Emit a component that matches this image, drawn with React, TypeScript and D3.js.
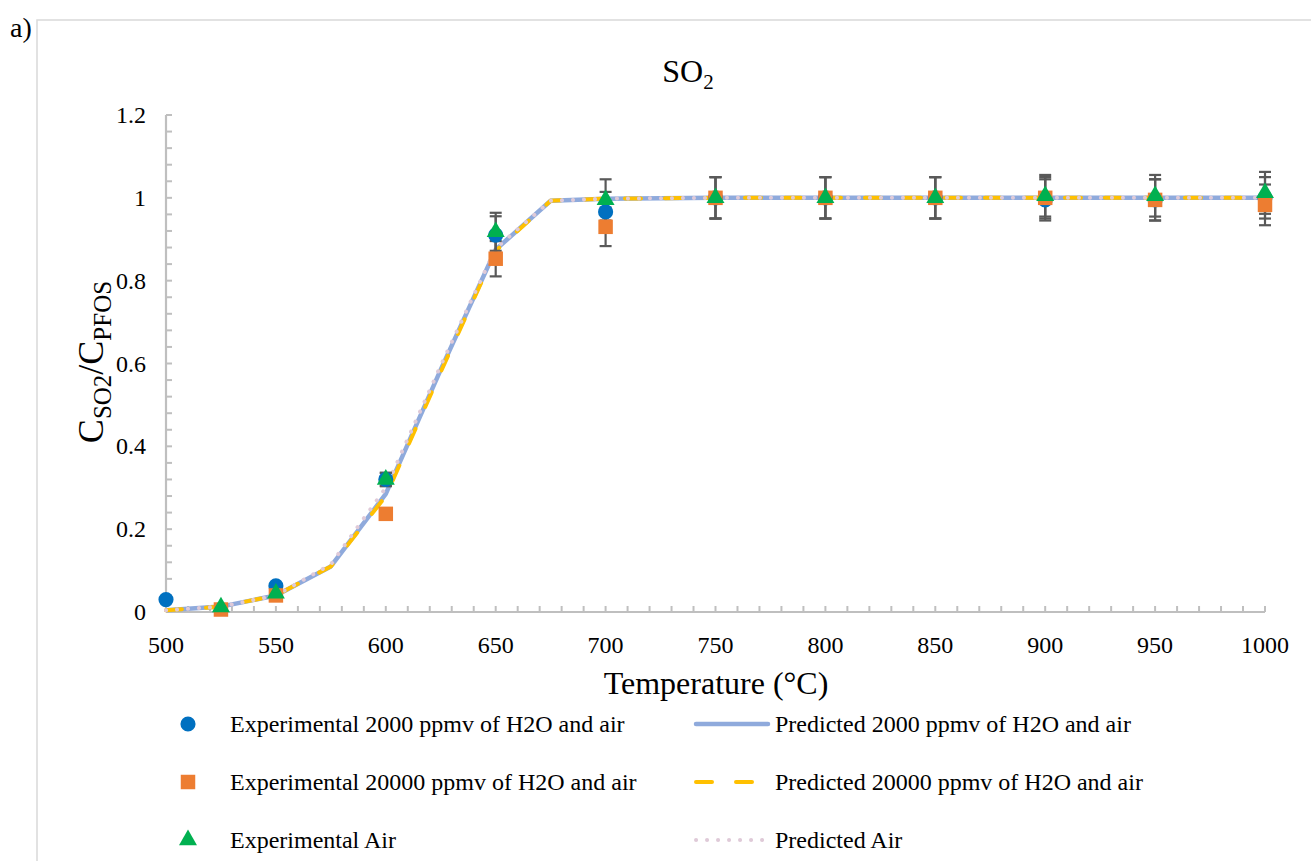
import React, { useEffect, useRef } from 'react';
import * as d3 from 'd3';

// experimental temperatures and values
const expTemps2000 = [500, 550, 600, 650, 700, 750, 800, 850, 900, 950, 1000];
const exp2000 = [0.03, 0.063, 0.32, 0.91, 0.966, 1.0, 1.0, 1.0, 0.995, 0.995, 1.0];

const expTemps20000 = [525, 550, 600, 650, 700, 750, 800, 850, 900, 950, 1000];
const exp20000 = [0.006, 0.04, 0.237, 0.853, 0.93, 1.0, 1.0, 1.0, 1.0, 0.995, 0.983];

const expTempsAir = [525, 550, 600, 650, 700, 750, 800, 850, 900, 950, 1000];
const expAir = [0.012, 0.045, 0.32, 0.918, 0.995, 1.0, 1.0, 1.0, 1.005, 1.005, 1.012];

// predicted curves
const predTemps = [500, 525, 550, 575, 600, 625, 650, 675, 700, 725, 750, 775, 800, 825, 850, 875, 900, 925, 950, 975, 1000];
const pred2000 = [0.004, 0.013, 0.04, 0.11, 0.285, 0.585, 0.875, 0.993, 0.998, 0.999, 1.0, 1.0, 1.0, 1.0, 1.0, 1.0, 1.0, 1.0, 1.0, 1.0, 1.0];
const pred20000 = [0.004, 0.013, 0.04, 0.11, 0.28, 0.58, 0.872, 0.993, 0.998, 0.999, 1.0, 1.0, 1.0, 1.0, 1.0, 1.0, 1.0, 1.0, 1.0, 1.0, 1.0];
const predAir = [0.004, 0.013, 0.04, 0.115, 0.30, 0.595, 0.878, 0.993, 0.998, 0.999, 1.0, 1.0, 1.0, 1.0, 1.0, 1.0, 1.0, 1.0, 1.0, 1.0, 1.0];

const xTicks = [500, 550, 600, 650, 700, 750, 800, 850, 900, 950, 1000];
const yTicks = [0, 0.2, 0.4, 0.6, 0.8, 1, 1.2];
const errFrac = 0.05;

const legendExp = [
  'Experimental 2000 ppmv of H2O and air',
  'Experimental 20000 ppmv of H2O and air',
  'Experimental Air',
];
const legendPred = [
  'Predicted 2000 ppmv of H2O and air',
  'Predicted 20000 ppmv of H2O and air',
  'Predicted Air',
];

const FONT = '"Liberation Serif", "Times New Roman", serif';
const BLUE = '#0070c0';
const ORANGE = '#ed7d31';
const GREEN = '#00b050';
const LBLUE = '#8faadc';
const YELLOW = '#ffc000';
const PINK = '#dfcad8';
const DASH = '16,24';
const DOTS = '0.1,10.9';

const App: React.FC = () => {
  const svgRef = useRef<SVGSVGElement>(null);

  useEffect(() => {
    if (!svgRef.current) return;
    const svg = d3.select(svgRef.current);
    svg.selectAll('*').remove();

    const x = d3.scaleLinear().domain([500, 1000]).range([166, 1265]);
    const y = d3.scaleLinear().domain([0, 1.2]).range([612, 115]);

    svg.append('rect').attr('width', 1311).attr('height', 861).attr('fill', '#fff');

    // chart frame
    svg.append('rect')
      .attr('x', 37).attr('y', 20).attr('width', 1320).attr('height', 900)
      .attr('fill', 'none').attr('stroke', '#d9d9d9').attr('stroke-width', 1.5);

    svg.append('text').attr('x', 10).attr('y', 37)
      .attr('font-family', FONT).attr('font-size', 28).text('a)');

    // title
    const title = svg.append('text').attr('x', 688).attr('y', 82)
      .attr('text-anchor', 'middle').attr('font-family', FONT).attr('font-size', 32);
    title.append('tspan').text('SO');
    title.append('tspan').attr('font-size', 21).attr('dy', 7).text('2');

    // axes
    const axisColor = '#bfbfbf';
    svg.append('line').attr('x1', x(500)).attr('x2', x(500)).attr('y1', y(0)).attr('y2', y(1.2))
      .attr('stroke', axisColor).attr('stroke-width', 2.2);
    svg.append('line').attr('x1', x(500)).attr('x2', x(1000)).attr('y1', y(0)).attr('y2', y(0))
      .attr('stroke', axisColor).attr('stroke-width', 2.2);

    d3.range(0, 1.2001, 0.04).forEach(v => {
      svg.append('line').attr('x1', x(500)).attr('x2', x(500) + 6).attr('y1', y(v)).attr('y2', y(v))
        .attr('stroke', axisColor).attr('stroke-width', 2);
    });
    d3.range(510, 1000.1, 10).forEach(v => {
      svg.append('line').attr('x1', x(v)).attr('x2', x(v)).attr('y1', y(0)).attr('y2', y(0) - 6)
        .attr('stroke', axisColor).attr('stroke-width', 2);
    });

    yTicks.forEach(v => {
      svg.append('text').attr('x', 146).attr('y', y(v) + 8)
        .attr('text-anchor', 'end').attr('font-family', FONT).attr('font-size', 24)
        .text(String(v));
    });
    xTicks.forEach(v => {
      svg.append('text').attr('x', x(v)).attr('y', 653)
        .attr('text-anchor', 'middle').attr('font-family', FONT).attr('font-size', 24)
        .text(String(v));
    });

    svg.append('text').attr('x', 716).attr('y', 694)
      .attr('text-anchor', 'middle').attr('font-family', FONT).attr('font-size', 32)
      .text('Temperature (°C)');

    const yt = svg.append('text').attr('transform', 'translate(103,362) rotate(-90)')
      .attr('text-anchor', 'middle').attr('font-family', FONT).attr('font-size', 36);
    yt.append('tspan').text('C');
    yt.append('tspan').attr('font-size', 25).attr('dy', 8).text('SO2');
    yt.append('tspan').attr('dy', -8).text('/C');
    yt.append('tspan').attr('font-size', 25).attr('dy', 8).text('PFOS');

    // predicted lines
    const line = d3.line<[number, number]>().x(d => x(d[0])).y(d => y(d[1]));
    const pts = (vals: number[]) => predTemps.map((t, i) => [t, vals[i]] as [number, number]);

    svg.append('path').attr('d', line(pts(pred2000))).attr('fill', 'none')
      .attr('stroke', LBLUE).attr('stroke-width', 4.5).attr('stroke-linejoin', 'round');
    svg.append('path').attr('d', line(pts(pred20000))).attr('fill', 'none')
      .attr('stroke', YELLOW).attr('stroke-width', 4).attr('stroke-linecap', 'round')
      .attr('stroke-dasharray', DASH);
    svg.append('path').attr('d', line(pts(predAir))).attr('fill', 'none')
      .attr('stroke', PINK).attr('stroke-width', 4).attr('stroke-linecap', 'round')
      .attr('stroke-dasharray', DOTS);

    // error bars
    const series = [
      { t: expTemps2000, v: exp2000 },
      { t: expTemps20000, v: exp20000 },
      { t: expTempsAir, v: expAir },
    ];
    series.forEach(s => {
      s.t.forEach((t, i) => {
        const v = s.v[i];
        const e = v * errFrac;
        const cx = x(t);
        const g = svg.append('g').attr('stroke', '#595959').attr('stroke-width', 2.2);
        g.append('line').attr('x1', cx).attr('x2', cx).attr('y1', y(v - e)).attr('y2', y(v + e));
        g.append('line').attr('x1', cx - 6).attr('x2', cx + 6).attr('y1', y(v - e)).attr('y2', y(v - e));
        g.append('line').attr('x1', cx - 6).attr('x2', cx + 6).attr('y1', y(v + e)).attr('y2', y(v + e));
      });
    });

    // markers
    const circle = d3.symbol().type(d3.symbolCircle).size(180);
    const square = d3.symbol().type(d3.symbolSquare).size(210);
    const tri = d3.symbol().type(d3.symbolTriangle).size(140);

    expTemps2000.forEach((t, i) => {
      svg.append('path').attr('d', circle()).attr('fill', BLUE)
        .attr('transform', `translate(${x(t)},${y(exp2000[i])})`);
    });
    expTemps20000.forEach((t, i) => {
      svg.append('path').attr('d', square()).attr('fill', ORANGE)
        .attr('transform', `translate(${x(t)},${y(exp20000[i])})`);
    });
    expTempsAir.forEach((t, i) => {
      svg.append('path').attr('d', tri()).attr('fill', GREEN)
        .attr('transform', `translate(${x(t)},${y(expAir[i])})`);
    });

    // legend
    const rowY = [724, 782, 840];
    const markers = [
      { d: circle, c: BLUE },
      { d: square, c: ORANGE },
      { d: tri, c: GREEN },
    ];
    legendExp.forEach((lab, i) => {
      svg.append('path').attr('d', markers[i].d()).attr('fill', markers[i].c)
        .attr('transform', `translate(188,${rowY[i]})`);
      svg.append('text').attr('x', 230).attr('y', rowY[i] + 8)
        .attr('font-family', FONT).attr('font-size', 24).text(lab);
    });
    const lineStyles = [
      { c: LBLUE, w: 4.5, dash: null, cap: 'round' },
      { c: YELLOW, w: 4, dash: DASH, cap: 'round' },
      { c: PINK, w: 4, dash: DOTS, cap: 'round' },
    ];
    legendPred.forEach((lab, i) => {
      const st = lineStyles[i];
      const l = svg.append('line').attr('x1', 696).attr('x2', 768).attr('y1', rowY[i]).attr('y2', rowY[i])
        .attr('stroke', st.c).attr('stroke-width', st.w).attr('stroke-linecap', st.cap);
      if (st.dash) l.attr('stroke-dasharray', st.dash);
      svg.append('text').attr('x', 775).attr('y', rowY[i] + 8)
        .attr('font-family', FONT).attr('font-size', 24).text(lab);
    });
  }, []);

  return (
    <div style={{ position: 'fixed', left: 0, top: 0, width: 1311, height: 861, overflow: 'hidden' }}>
      <svg ref={svgRef} width={1311} height={861} style={{ display: 'block' }} />
    </div>
  );
};

export default App;
